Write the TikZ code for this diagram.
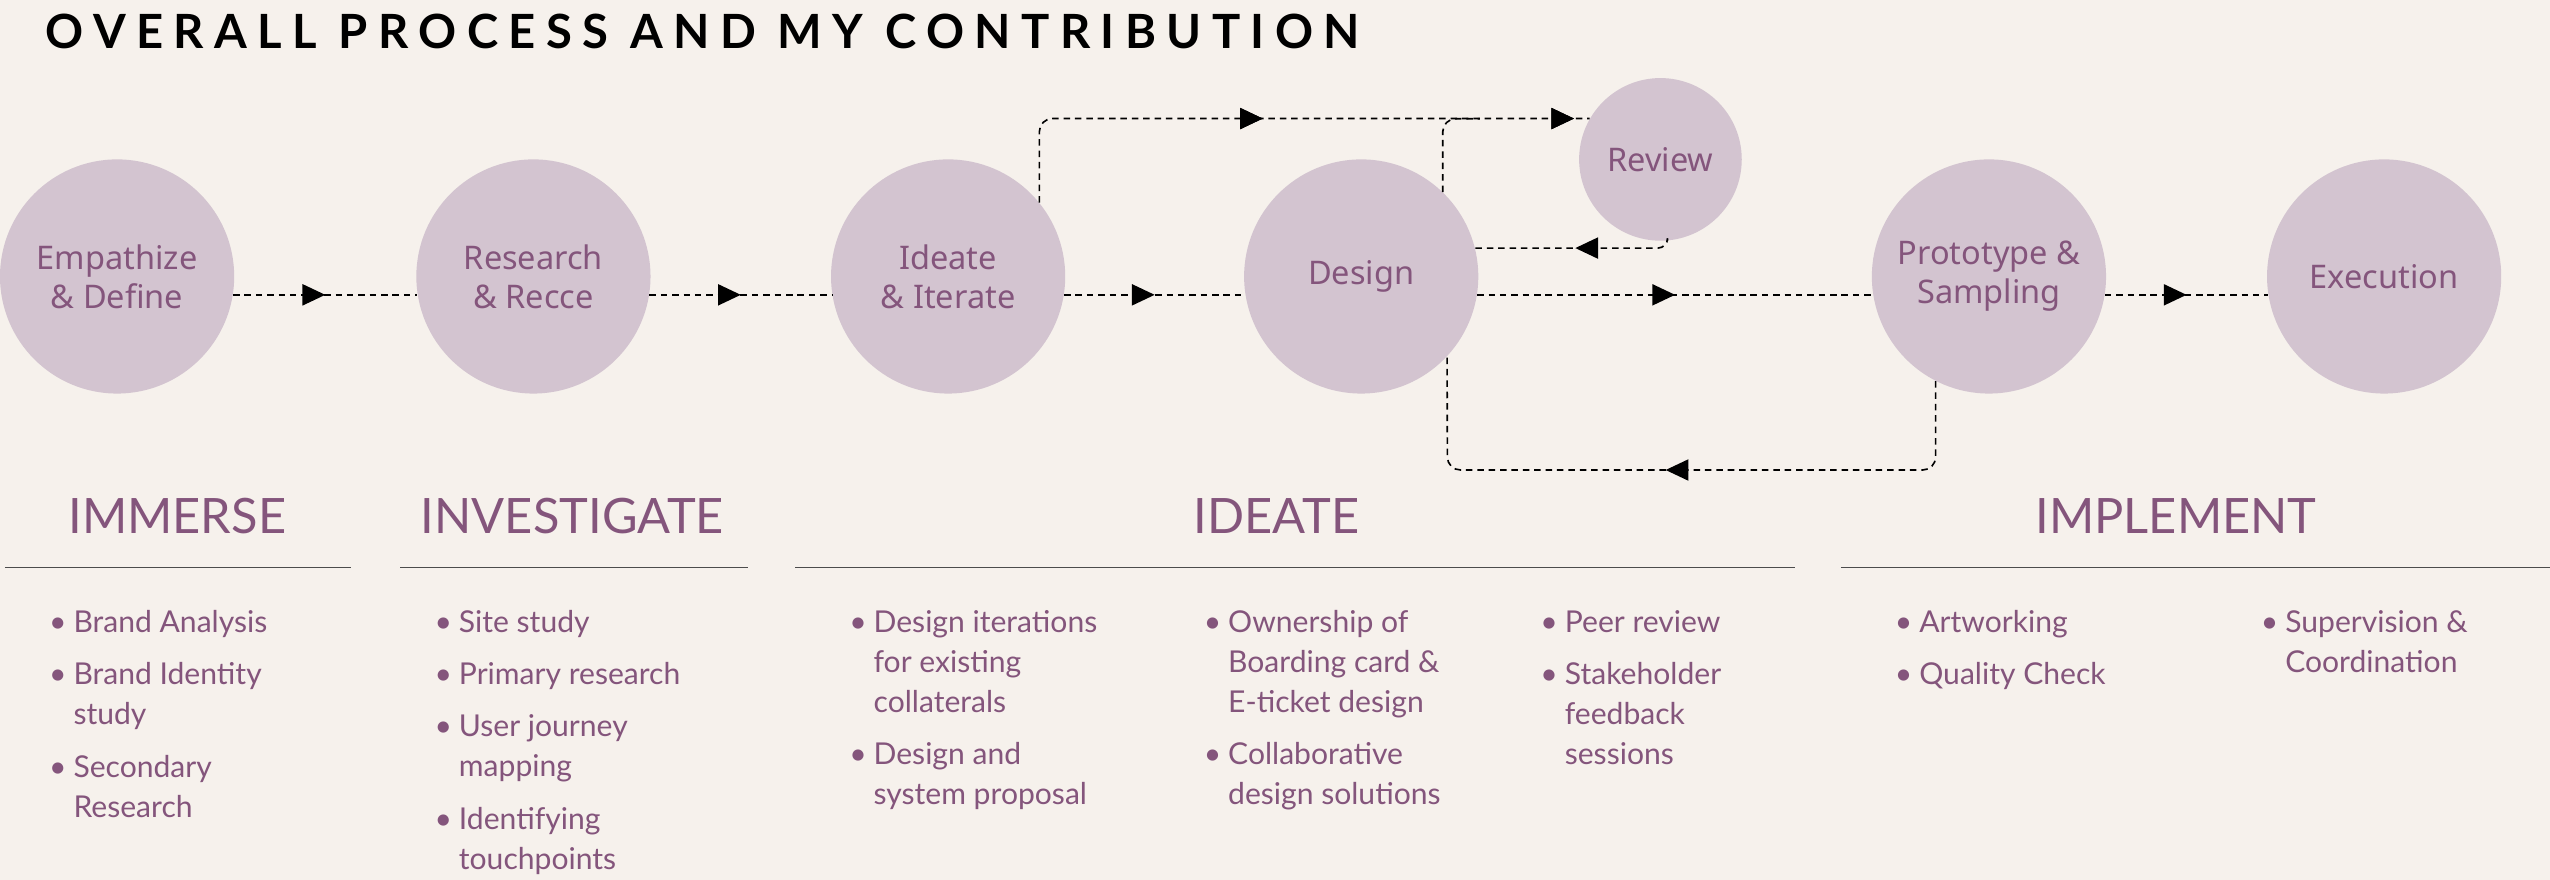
\documentclass[tikz,border=0pt]{standalone}
\usepackage{fontspec}
\setmainfont{Lato}
\newfontfamily\circfont{Noto Sans}
\usetikzlibrary{arrows.meta,decorations.markings}
\definecolor{bgcol}{HTML}{F6F1EC}
\definecolor{circcol}{HTML}{D3C4D0}
\definecolor{txtcol}{HTML}{84557C}
\tikzset{
  stage/.style={circle,fill=circcol,minimum size=144pt,inner sep=0pt,align=center,
    text=txtcol,font=\circfont\fontsize{20}{24}\selectfont},
  dashln/.style={draw=black,line width=1pt,dash pattern=on 4pt off 3pt},
  >={Triangle[length=14pt,width=13pt]},
  flow/.style={dashln,postaction={decorate},decoration={markings,
    mark=at position #1 with {\arrow[solid]{>}}}},
  flow/.default=0.5,
  phase/.style={text=txtcol,font=\fontsize{30}{34}\selectfont},
  rule/.style={draw=black!70,line width=0.8pt},
  item/.style={anchor=base west,inner sep=0pt,text=txtcol,
    font=\fontsize{18.5}{24.5}\selectfont},
}
% bullet point: x, y (first baseline), name, text
\newcommand{\bpoint}[4]{%
  \node[item] (#3dot) at (#1,#2) {\textbullet};
  \node[item] (#3) at (#1+15,#2) {\begin{tabular}[t]{@{}l@{}}#4\end{tabular}};}
\begin{document}
\begin{tikzpicture}[x=1pt,y=-1pt]
\fill[bgcol] (0,0) rectangle (1568,541);
\useasboundingbox (0,0) rectangle (1568,541);

\node[anchor=base west,inner sep=0pt,font=\bfseries\fontsize{29}{30}\selectfont\addfontfeature{LetterSpace=22}]
  (title) at (28,30) {OVERALL PROCESS AND MY CONTRIBUTION};

% stages
\node[stage] (emp) at (72,170) {Empathize\\\& Define};
\node[stage] (res) at (328,170) {Research\\\& Recce};
\node[stage] (ide) at (583,170) {Ideate\\\& Iterate};
\node[stage] (des) at (837,170) {\raisebox{-4pt}{Design}};
\node[stage,minimum size=100pt] (rev) at (1021,98) {Review};
\node[stage] (pro) at (1223,170) {Prototype \&\\Sampling};
\node[stage] (exe) at (1466,170) {\raisebox{-3pt}{Execution}};

% connectors
\draw[flow] (emp.-9) -- (res.189);
\draw[flow] (res.-9) -- (ide.189);
\draw[flow] (ide.-9) -- (des.189);
\draw[flow=0.5] (des.-9) -- (pro.189);
\draw[flow] (pro.-9) -- (exe.189);
\draw[flow=0.48,postaction={decorate},decoration={markings,
  mark=at position 0.975 with {\arrow[solid]{>}}},
  rounded corners=8pt] (ide.39) |- (rev.150);
\coordinate (topj) at (910,73);
\draw[dashln,rounded corners=8pt] (des.46) |- (topj);
\draw[flow,rounded corners=6pt] (rev.-85) |- (des.14);
\coordinate (lowc) at (890,289);
\draw[flow=0.52,rounded corners=8pt] (pro.-117) |- (lowc) -- (des.-43);

% phases
\node[phase] (immerse) at (109,317) {IMMERSE};
\node[phase] (investigate) at (352,317) {INVESTIGATE};
\node[phase] (ideate) at (785,317) {IDEATE};
\node[phase] (implement) at (1338,317) {IMPLEMENT};
\draw[rule] (3,349) -- (216,349);
\draw[rule] (246,349) -- (460,349);
\draw[rule] (489,349) -- (1104,349);
\draw[rule] (1132,349) -- (1568,349);

% contributions
\bpoint{30}{389}{ba}{Brand Analysis}
\bpoint{30}{421}{bi}{Brand Identity\\study}
\bpoint{30}{478}{sr}{Secondary\\Research}
\bpoint{267}{389}{ss}{Site study}
\bpoint{267}{421}{pr}{Primary research}
\bpoint{267}{453}{uj}{User journey\\mapping}
\bpoint{267}{510}{it}{Identifying\\touchpoints}
\bpoint{522}{389}{di}{Design iterations\\for existing\\collaterals}
\bpoint{522}{470}{dp}{Design and\\system proposal}
\bpoint{740}{389}{ow}{Ownership of\\Boarding card \&\\E-ticket design}
\bpoint{740}{470}{cd}{Collaborative\\design solutions}
\bpoint{947}{389}{pe}{Peer review}
\bpoint{947}{421}{sf}{Stakeholder\\feedback\\sessions}
\bpoint{1165}{389}{aw}{Artworking}
\bpoint{1165}{421}{qc}{Quality Check}
\bpoint{1390}{389}{sc}{Supervision \&\\Coordination}
\end{tikzpicture}
\end{document}
